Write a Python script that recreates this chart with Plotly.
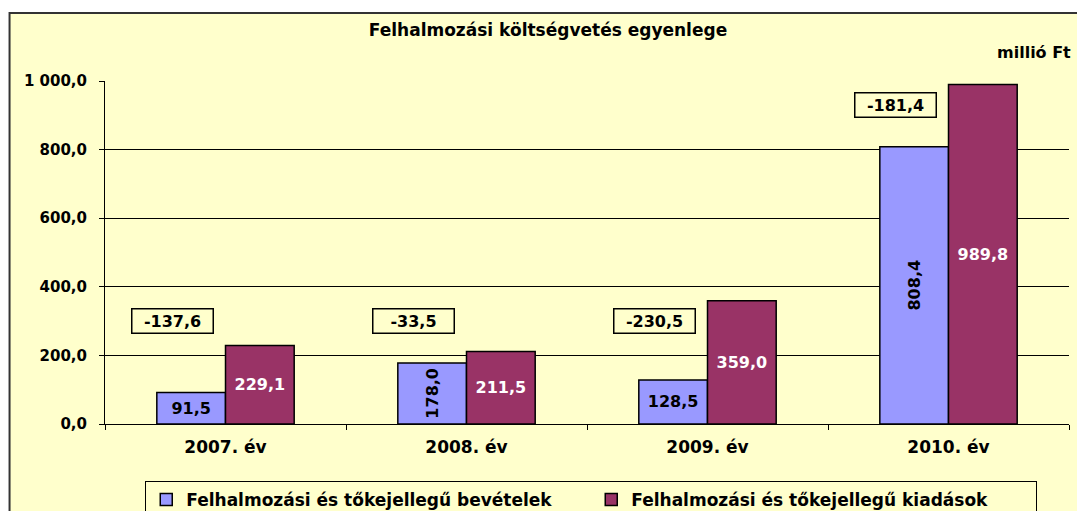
import plotly.graph_objects as go

# ---- data ----
categories = ["2007. év", "2008. év", "2009. év", "2010. év"]
bevetelek = [91.5, 178.0, 128.5, 808.4]
kiadasok = [229.1, 211.5, 359.0, 989.8]
egyenleg = [-137.6, -33.5, -230.5, -181.4]
series_names = ["Felhalmozási és tőkejellegű bevételek", "Felhalmozási és tőkejellegű kiadások"]
y_ticks = [0, 200, 400, 600, 800, 1000]
title_text = "Felhalmozási költségvetés egyenlege"
unit_text = "millió Ft"

# ---- styles ----
BLUE = "#9999FF"
RED = "#993366"
BG = "#FFFFCC"
FONT = "DejaVu Sans"
rotated_blue = [False, True, False, True]
box_y = [300, 300, 300, 930]
box_dx = -0.22
bar_w = 0.285

# plot area geometry (pixels)
W, H = 1077, 511
L, R, T, B = 104.5, 8, 81, 87
pw = W - L - R
ph = H - T - B

def px_x(p):
    return (p - L) / pw

def px_y(p):
    return (H - B - p) / ph

def f(size=16, color="black"):
    return dict(family=FONT, size=size, color=color, weight="bold")

fig = go.Figure()

fig.add_trace(go.Bar(
    x=categories, y=bevetelek, name=series_names[0],
    marker=dict(color=BLUE, line=dict(color="black", width=1.5)),
    width=bar_w,
    text=["" if r else f"{v:.1f}".replace(".", ",") for v, r in zip(bevetelek, rotated_blue)],
    textposition="inside", insidetextanchor="middle", textangle=0,
    textfont=f(), hoverinfo="skip",
))
fig.add_trace(go.Bar(
    x=categories, y=kiadasok, name=series_names[1],
    marker=dict(color=RED, line=dict(color="black", width=1.5)),
    width=bar_w,
    texttemplate="%{y:.1f}",
    textposition="inside", insidetextanchor="middle", textangle=0,
    textfont=f(color="white"), hoverinfo="skip",
))

annotations = []
for i, (v, r) in enumerate(zip(bevetelek, rotated_blue)):
    if r:
        annotations.append(dict(
            x=i - bar_w / 2, y=v / 2, xref="x", yref="y",
            text=f"{v:.1f}".replace(".", ","), textangle=-90, showarrow=False,
            font=f(),
        ))
for i, d in enumerate(egyenleg):
    annotations.append(dict(
        x=i + box_dx, y=box_y[i], xref="x", yref="y",
        text=f"{d:.1f}".replace(".", ","), showarrow=False,
        font=f(),
        bordercolor="black", borderwidth=1.5, borderpad=2, bgcolor=BG,
        width=76,
    ))
annotations.append(dict(
    x=px_x(1073), y=px_y(52), xref="paper", yref="paper",
    xanchor="right", yanchor="middle", text=unit_text, showarrow=False,
    font=f(),
))

shapes = [dict(
    type="rect", xref="paper", yref="paper", layer="below",
    x0=px_x(9), x1=px_x(W + 20), y0=px_y(H + 20), y1=px_y(13),
    fillcolor=BG, line=dict(color="#333333", width=2),
)]

fig.update_layout(
    width=W, height=H,
    margin=dict(l=L, r=R, t=T, b=B, pad=0, autoexpand=False),
    paper_bgcolor="white", plot_bgcolor="rgba(0,0,0,0)",
    separators=", ",
    barmode="group", bargap=0.43, bargroupgap=0,
    title=dict(text=title_text, x=548 / W, xanchor="center", y=1 - 30 / H, yanchor="middle",
               font=f(17)),
    font=dict(family=FONT, size=16, color="black"),
    showlegend=True,
    legend=dict(orientation="h", x=px_x(591), xanchor="center", y=px_y(481), yanchor="top",
                bgcolor=BG, bordercolor="black", borderwidth=1,
                font=f(17), itemwidth=30, tracegroupgap=0,
                entrywidth=400, entrywidthmode="pixels"),
    annotations=annotations,
    shapes=shapes,
    xaxis=dict(type="category", showgrid=False, showline=True, linecolor="black", linewidth=1,
               ticks="outside", tickson="boundaries", ticklen=5, tickcolor="black",
               tickfont=f(17), ticklabelstandoff=8, fixedrange=True),
    yaxis=dict(range=[0, 1000], tickvals=y_ticks, tickformat=",.1f",
               showgrid=True, gridcolor="black", gridwidth=1, zeroline=False,
               showline=True, linecolor="black", linewidth=1,
               ticks="outside", ticklen=5, tickcolor="black",
               tickfont=f(15), ticklabelstandoff=9, fixedrange=True),
)

fig.write_html("out.html", config={"displayModeBar": False},
               post_script="document.body.style.margin='0';document.body.style.overflow='hidden';")
